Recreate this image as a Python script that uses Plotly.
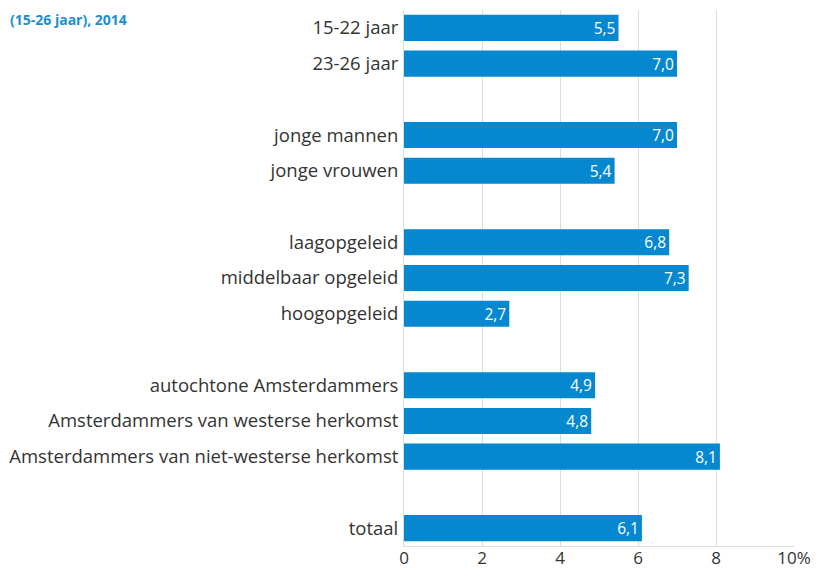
import plotly.graph_objects as go

categories = [
    "15-22 jaar", "23-26 jaar", " ",
    "jonge mannen", "jonge vrouwen", "  ",
    "laagopgeleid", "middelbaar opgeleid", "hoogopgeleid", "   ",
    "autochtone Amsterdammers", "Amsterdammers van westerse herkomst",
    "Amsterdammers van niet-westerse herkomst", "    ",
    "totaal",
]
values = [5.5, 7.0, None, 7.0, 5.4, None, 6.8, 7.3, 2.7, None, 4.9, 4.8, 8.1, None, 6.1]
x_ticks = [0, 2, 4, 6, 8, 10]
x_ticktext = ["0", "2", "4", "6", "8", "10%"]

bar_color = "#0588cf"
grid_color = "#dcdcdc"
text_color = "#333333"

labels = [("%.1f" % v).replace(".", ",") if v is not None else "" for v in values]

fig = go.Figure()
fig.add_trace(go.Bar(
    x=values,
    y=categories,
    orientation="h",
    marker=dict(color=bar_color, line=dict(width=0)),
    text=labels,
    textposition="inside",
    insidetextanchor="end",
    textangle=0,
    constraintext="none",
    textfont=dict(color="white", size=15.5),
    cliponaxis=False,
))

# title, cut off at the top in the source image
fig.add_annotation(
    text="<b>(15-26 jaar), 2014</b>",
    xref="paper", yref="paper",
    x=0, y=1, xanchor="left", yanchor="top",
    xshift=-396, yshift=2,
    showarrow=False,
    font=dict(color="#1a8fd0", size=14),
)

# page body has an 8px margin, offsets below account for it
fig.update_layout(
    width=805,
    height=563,
    paper_bgcolor="white",
    plot_bgcolor="white",
    font=dict(family="Open Sans, sans-serif", color=text_color, size=18.5),
    margin=dict(l=396, r=19, t=2, b=25),
    bargap=0.27,
    showlegend=False,
    xaxis=dict(
        range=[0, 10],
        tickvals=x_ticks,
        ticktext=x_ticktext,
        showgrid=True,
        gridcolor=grid_color,
        gridwidth=1,
        zeroline=False,
        showline=True,
        linecolor=grid_color,
        ticks="",
        automargin=False,
        ticklabelstandoff=-3,
        tickfont=dict(size=17, color=text_color),
    ),
    yaxis=dict(
        categoryorder="array",
        categoryarray=categories,
        autorange="reversed",
        showgrid=False,
        showline=True,
        linecolor=grid_color,
        ticks="",
        automargin=False,
        ticklabelstandoff=1,
        tickfont=dict(size=18.5, color=text_color),
    ),
)

fig.write_html("out.html")
